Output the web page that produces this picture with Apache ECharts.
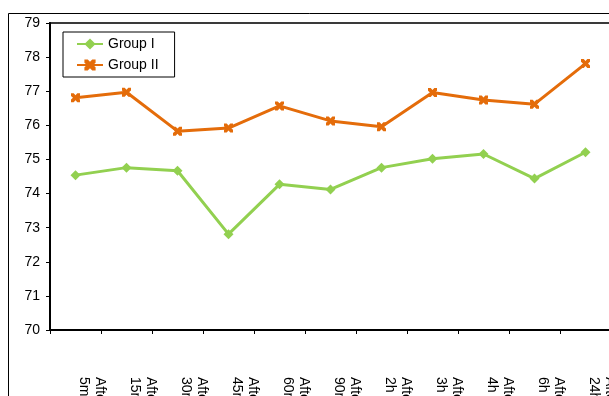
<!DOCTYPE html>
<html>
<head>
<meta charset="utf-8">
<script src="https://cdn.jsdelivr.net/npm/echarts@6/dist/echarts.min.js"></script>
<style>
  html, body { margin: 0; padding: 0; background: #fff; }
  #chart { width: 609px; height: 396px; }
</style>
</head>
<body>
<div id="chart"></div>
<script>
// time points (labels are cut off at the bottom of the picture)
const categories = [
  'After\n5min', 'After\n15min', 'After\n30min', 'After\n45min', 'After\n60min',
  'After\n90min', 'After\n2h', 'After\n3h', 'After\n4h', 'After\n6h', 'After\n24h'
]
const groupOne = [74.54, 74.76, 74.67, 72.81, 74.27, 74.12, 74.76, 75.02, 75.16, 74.44, 75.21]
const groupTwo = [76.81, 76.97, 75.83, 75.92, 76.57, 76.13, 75.96, 76.96, 76.74, 76.62, 77.81]
const yTicks = { min: 70, max: 79, interval: 1 }

const chart = echarts.init(document.getElementById('chart'))
const xMark = 'path://M0,0H3L5,2.2L7,0H10V3L7.8,5L10,7V10H7L5,7.8L3,10H0V7L2.2,5L0,3Z'

chart.setOption({
  backgroundColor: '#fff',
  animation: false,
  textStyle: { fontFamily: 'Liberation Sans, Arial, sans-serif' },
  graphic: [
    {
      type: 'rect',
      shape: { x: 8.5, y: 13.5, width: 700, height: 500 },
      style: { fill: 'none', stroke: '#000', lineWidth: 1 },
      z: -1
    }
  ],
  grid: {
    left: 50,
    top: 23,
    width: 561,
    height: 307,
    outerBoundsMode: 'none',
    containLabel: false,
    show: true,
    borderColor: '#3a3a3a',
    borderWidth: 2
  },
  legend: {
    orient: 'vertical',
    left: 63,
    top: 32,
    padding: [5, 16, 5, 13],
    itemGap: 7,
    itemWidth: 26,
    itemHeight: 14,
    borderColor: '#000',
    borderWidth: 1,
    backgroundColor: '#fff',
    textStyle: { fontSize: 14, color: '#000' },
    data: ['Group I', 'Group II']
  },
  xAxis: {
    type: 'category',
    data: categories,
    boundaryGap: true,
    axisLine: { lineStyle: { color: '#000', width: 2 } },
    axisTick: { show: true, length: 4, lineStyle: { color: '#000', width: 1 } },
    axisLabel: {
      rotate: -90,
      interval: 0,
      hideOverlap: false,
      margin: 47,
      fontSize: 14,
      color: '#000',
      lineHeight: 16,
      // two blank lines push the text to the right of the category centre, like the original
      formatter: v => v + '\n\n'
    }
  },
  yAxis: {
    type: 'value',
    min: yTicks.min,
    max: yTicks.max,
    interval: yTicks.interval,
    splitLine: { show: false },
    axisLine: { show: true, lineStyle: { color: '#000', width: 2 } },
    axisTick: { show: true, length: 4, lineStyle: { color: '#000', width: 1 } },
    axisLabel: { fontSize: 14, color: '#000', margin: 10 }
  },
  series: [
    {
      name: 'Group I',
      type: 'line',
      data: groupOne,
      symbol: 'diamond',
      symbolSize: 10,
      color: '#92D050',
      lineStyle: { color: '#92D050', width: 3 },
      itemStyle: { color: '#92D050' }
    },
    {
      name: 'Group II',
      type: 'line',
      data: groupTwo,
      symbol: xMark,
      symbolSize: 9,
      color: '#E46C0A',
      lineStyle: { color: '#E46C0A', width: 3 },
      itemStyle: { color: '#E46C0A' }
    }
  ]
})
</script>
</body>
</html>
